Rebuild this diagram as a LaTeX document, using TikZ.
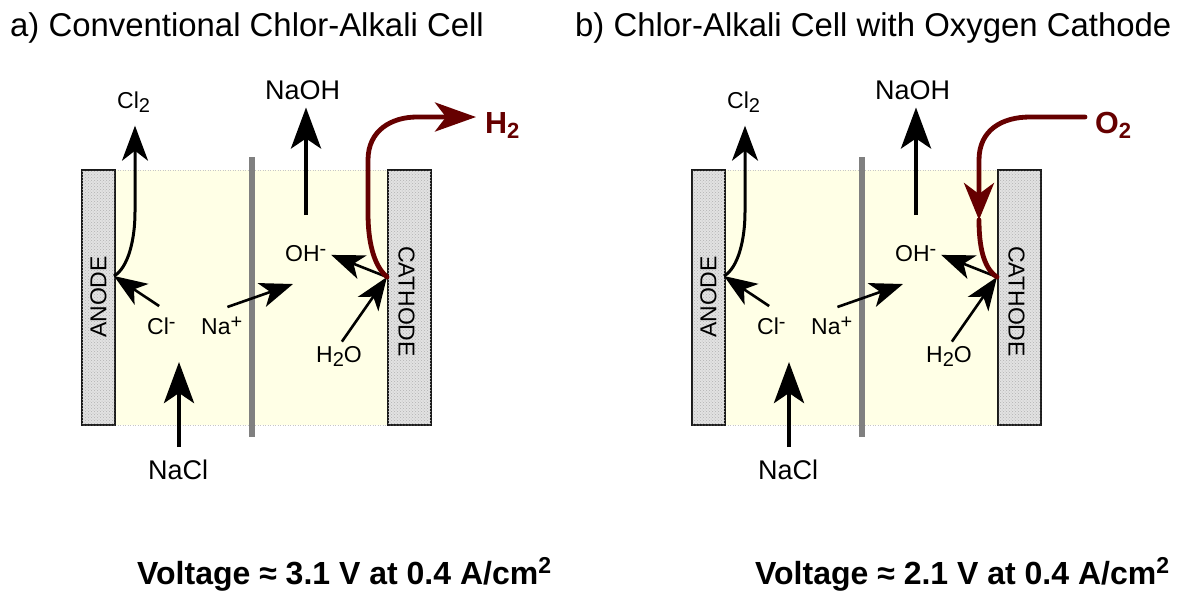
\documentclass[tikz,border=0pt]{standalone}
\usepackage{fontspec}
\setmainfont{Liberation Sans}
\usetikzlibrary{arrows.meta,patterns}
\definecolor{maroonline}{HTML}{660000}
\definecolor{electrolyte}{HTML}{FFFFE6}
\definecolor{electrode}{HTML}{E2E2E2}
\definecolor{membrane}{HTML}{808080}
\newcommand{\fs}[1]{\fontsize{#1}{#1}\selectfont}
\newcommand{\subsc}[1]{\raisebox{-4.5pt}{\fs{20}#1}}
\newcommand{\supsc}[1]{\raisebox{6pt}{\fs{20}#1}}
\tikzset{
  lbl/.style={inner sep=0pt,anchor=base west,font=\fs{23}},
  biglbl/.style={inner sep=0pt,anchor=base west,font=\fs{27}},
  title/.style={inner sep=0pt,anchor=base west,font=\fs{32.9}},
  gaslbl/.style={inner sep=0pt,anchor=base west,font=\fs{30.5}\bfseries,text=maroonline},
  voltlbl/.style={inner sep=0pt,anchor=base west,font=\fs{32}\bfseries},
  plate/.style={draw=black!90,line width=2.4pt,fill=electrode,
    postaction={pattern=crosshatch dots,pattern color=black!30},
    inner sep=0pt,minimum width=#1,minimum height=255pt},
  platetext/.style={inner sep=0pt,font=\fs{23}},
  surface/.style={draw=black!22,line width=.8pt,dash pattern=on 1pt off 1.5pt},
  heavy/.style={line width=4.5pt,-{Stealth[length=41pt,width=30pt,inset=10pt]}},
  medium/.style={line width=3pt,-{Stealth[length=35pt,width=26pt,inset=10pt]}},
  thin/.style={line width=2.6pt,-{Stealth[length=33pt,width=25pt,inset=9pt]}},
  gasline/.style={line width=4.8pt,draw=maroonline,line cap=round},
  gashead/.style={-{Stealth[length=41pt,width=29pt,inset=11pt]}},
}
\newcommand{\cell}[2]{%
\begin{scope}[xshift=#2]
  \fill[electrolyte] (115,170) rectangle (388,425);
  \draw[surface] (115,170) -- (388,170);
  \draw[surface] (115,425) -- (388,425);
  \fill[membrane] (249,157) rectangle (255,437);
  \node[plate=33pt] (#1-anode) at (98.5,297.5) {};
  \node[plate=43pt] (#1-cathode) at (409.5,297.5) {};
  \node[platetext,rotate=90] (#1-anodetext) at (98.5,297) {ANODE};
  \node[platetext,rotate=-90] (#1-cathodetext) at (406.5,301.5) {CATHODE};
  \coordinate (#1-anodept) at (114,276);
  \coordinate (#1-cathodept) at (387,277);
  \coordinate (#1-cltwofoot) at (135,212);
  \coordinate (#1-natip) at (293,284);
  \coordinate (#1-naohfoot) at (306,215);
  \coordinate (#1-nacltip) at (179,362);
  \node[lbl] (#1-cltwo) at (117,108) {Cl\subsc{2}};
  \node[biglbl] (#1-naoh) at (265,99) {NaOH};
  \node[lbl] (#1-ohm) at (285,261) {OH\supsc{-}};
  \node[lbl] (#1-water) at (316,362) {H\subsc{2}O};
  \node[lbl] (#1-clm) at (147,334) {Cl\supsc{-}};
  \node[lbl] (#1-nap) at (201,334) {Na\supsc{+}};
  \node[biglbl] (#1-nacl) at (148,479) {NaCl};
  \draw[medium] (#1-anodept) .. controls (128,268) and (135,240) .. (#1-cltwofoot)
     -- ([yshift=-13pt]#1-cltwofoot |- #1-cltwo.south);
  \draw[thin,shorten <=20pt] (#1-clm.north east) -- (#1-anodept);
  \draw[thin,shorten <=28pt] (#1-nap.north west) -- (#1-natip);
  \draw[heavy,shorten <=12pt] (#1-nacltip |- #1-nacl.north) -- (#1-nacltip);
  \draw[heavy] (#1-naohfoot) -- ([yshift=-8pt]#1-naohfoot |- #1-naoh.south);
  \draw[thin,shorten >=5pt] (#1-cathodept) -- (#1-ohm.east);
  \draw[thin,shorten <=5pt] (#1-water.north) -- (#1-cathodept);
\end{scope}}
\begin{document}
\begin{tikzpicture}[x=1pt,y=-1pt]
\useasboundingbox (0,0) rectangle (1178,590);
\fill[white] (0,0) rectangle (1178,590);
\node[title] (titlea) at (10,36) {a) Conventional Chlor-Alkali Cell};
\node[title] (titleb) at (575,36) {b) Chlor-Alkali Cell with Oxygen Cathode};
\cell{a}{0pt}
\cell{b}{610pt}
% hydrogen leaves the cathode
\node[gaslbl] (htwo) at (485,133) {H\raisebox{-5pt}{\fs{22}2}};
\coordinate (hbend) at (417,117);
\draw[gasline,gashead] (a-cathodept) .. controls (373,265) and (368,240) .. (368,213)
  -- (368,160) .. controls (368,130) and (392,117) .. (hbend) -- ([xshift=-9pt]hbend -| htwo.west);
% oxygen reaches the cathode
\node[gaslbl] (otwo) at (1095,133) {O\raisebox{-5pt}{\fs{22}2}};
\coordinate (obend) at (1030,117);
\coordinate (omid) at (979,220);
\draw[gasline,-{Stealth[length=37pt,width=30pt,inset=11pt]}] ([xshift=-10pt]obend -| otwo.west) -- (obend)
  .. controls (1002,117) and (979,130) .. (979,160) -- (omid);
\draw[gasline] (omid) .. controls (979,245) and (983,268) .. (b-cathodept);
\node[voltlbl] (volta) at (137,584) {Voltage ≈ 3.1 V at 0.4 A/cm\raisebox{11pt}{\fs{23}\bfseries 2}};
\node[voltlbl] (voltb) at (755,584) {Voltage ≈ 2.1 V at 0.4 A/cm\raisebox{11pt}{\fs{23}\bfseries 2}};
\end{tikzpicture}
\end{document}
